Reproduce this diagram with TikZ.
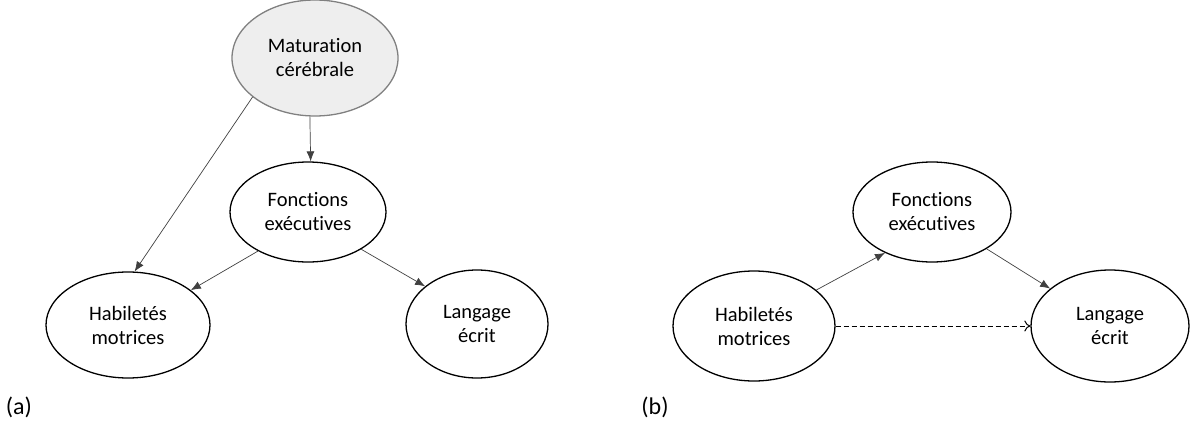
\documentclass[tikz,border=0pt]{standalone}
\usepackage{fontspec}
\setmainfont[Ligatures={NoCommon,NoRare,NoContextual}]{Carlito}
\usetikzlibrary{arrows.meta,shapes.geometric}
\definecolor{matfill}{HTML}{EEEEEE}
\definecolor{matdraw}{HTML}{808080}
\definecolor{edgecol}{HTML}{404040}
\tikzset{
  ell/.style={ellipse, draw=black, line width=1.3pt, inner sep=0pt, align=center,
    font=\fontsize{20.5}{24}\selectfont},
  matell/.style={ell, fill=matfill, draw=matdraw},
  edge/.style={draw=edgecol, line width=0.7pt, -{Latex[length=10pt,width=8pt]}},
  dedge/.style={draw=black, line width=1pt, dash pattern=on 5pt off 3pt, -{To[length=6pt,width=11pt]}},
  lab/.style={font=\fontsize{24}{28}\selectfont, inner sep=0pt}
}
\begin{document}
\begin{tikzpicture}[x=1pt,y=-1pt]
\useasboundingbox (0,0) rectangle (1192,423);
% (a)
\node[matell, minimum width=166pt, minimum height=116pt] (mat) at (315,58) {Maturation\\cérébrale};
\node[ell, minimum width=156pt, minimum height=100pt] (foa) at (308,212) {Fonctions\\exécutives};
\node[ell, minimum width=164pt, minimum height=106pt] (haa) at (128,325) {Habiletés\\motrices};
\node[ell, minimum width=142pt, minimum height=108pt] (laa) at (477,324) {Langage\\écrit};
\node[lab] (la) at (19,407) {(a)};
\draw[edge] (mat.212) -- (haa.83);
\draw[edge] (mat.265) -- (foa.87);
\draw[edge] (foa.218) -- (haa.29);
\draw[edge] (foa.325) -- (laa.144);
% (b)
\node[ell, minimum width=158pt, minimum height=100pt] (fob) at (932,212) {Fonctions\\exécutives};
\node[ell, minimum width=162pt, minimum height=110pt] (hab) at (754,326) {Habiletés\\motrices};
\node[ell, minimum width=158pt, minimum height=112pt] (lab) at (1110,326) {Langage\\écrit};
\node[lab] (lb) at (655,407) {(b)};
\draw[edge] (hab.30) -- (fob.221);
\draw[edge] (fob.326) -- (lab.148);
\draw[dedge] (hab.east) -- (lab.west);
\end{tikzpicture}
\end{document}
